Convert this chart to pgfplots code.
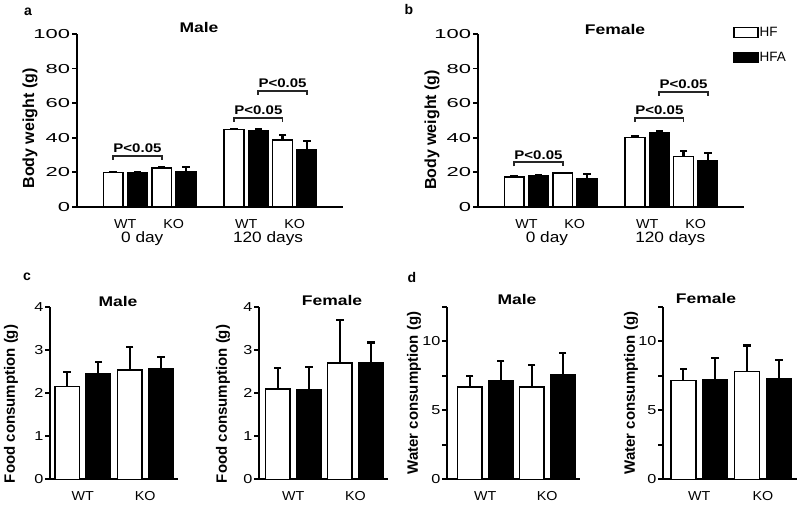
\documentclass[border=0pt]{standalone}
\usepackage{fontspec}
\setmainfont{Liberation Sans}
\usepackage{pgfplots}
\pgfplotsset{compat=1.18}

\newcommand\fs[1]{\fontsize{#1}{#1}\selectfont}

\pgfplotsset{
  panel/.style={
    scale only axis,
    axis x line*=bottom, axis y line*=left,
    axis line style={line width=1.8pt},
    ymin=0,
    xtick style={draw=none},
    ytick style={line width=1.8pt, black},
    tick align=outside,
    major tick length=5pt,
    unbounded coords=jump,
    /pgf/number format/assume math mode=true,
    yticklabel style={font=\fs{13}, xscale=1.25, inner sep=1pt},
    xticklabel style={font=\fs{13}, xscale=1.1, anchor=base, yshift=-16.5pt},
    clip=false,
  },
  hf/.style={ybar, bar shift=0pt, draw=black, fill=white, line width=1.6pt},
  hfa/.style={ybar, bar shift=0pt, draw=black, fill=black, line width=1.6pt},
  % error bar stems (value to value+SD, separated by nan) and caps
  stem/.style={forget plot, black, line width=2.2pt, mark=none},
  cap/.style={forget plot, only marks, black, mark=-, mark size=3.8pt,
    mark options={line width=2.2pt}},
  bw/.style={panel, width=266pt, height=173pt, xmin=-1.5, xmax=9.5,
    ymax=100, ytick={0,20,...,100}, bar width=0.82,
    xtick={0.5,2.5,5.5,7.5}, xticklabels={WT,KO,WT,KO},
    yticklabel style={xscale=1.35}},
  fc/.style={panel, height=172.6pt, ymax=4, ytick={0,1,2,3,4}, bar width=0.78,
    xtick={0.5,2.5}, xticklabels={WT,KO}},
  wc/.style={panel, height=172.6pt, ymax=12.5, ytick={0,2.5,5,7.5,10,12.5},
    yticklabels={0,,5,,10,}, bar width=0.78,
    xtick={0.5,2.5}, xticklabels={WT,KO}},
}

% significance bracket: x1, x2, y
\newcommand\sig[3]{%
  \draw[line width=1.8pt, black!85] ([yshift=-4pt]axis cs:#1,#3) -- (axis cs:#1,#3)
    -- (axis cs:#2,#3) -- ([yshift=-4pt]axis cs:#2,#3);
  \node[font=\bfseries\fs{12.5}, xscale=1.2, anchor=south, inner sep=0pt, yshift=3pt]
    at (axis cs:{(#1+#2)/2},#3) {P<0.05};
}

\begin{document}
\begin{tikzpicture}[x=1pt,y=1pt]
\path[use as bounding box] (0,0) rectangle (800,504);

% ---- a: male body weight
\begin{axis}[bw, at={(77pt,297pt)}, anchor=south west]
\addplot[hf] coordinates {(0,20) (2,22.7) (5,44.9) (7,38.7)};
\addplot[hfa] coordinates {(1,20) (3,20.4) (6,44.3) (8,33.3)};
\addplot[stem] coordinates {(0,20) (0,20.3) (0,nan) (2,22.7) (2,23.1) (2,nan)
  (5,44.9) (5,45.2) (5,nan) (7,38.7) (7,41.6) (7,nan)
  (1,20) (1,20.4) (1,nan) (3,20.4) (3,23.3) (3,nan)
  (6,44.3) (6,45.1) (6,nan) (8,33.3) (8,38.3)};
\addplot[cap] coordinates {(0,20.3) (2,23.1) (5,45.2) (7,41.6) (1,20.4) (3,23.3) (6,45.1) (8,38.3)};
\sig{0}{2}{29.7}
\sig{5}{7}{51.6}
\sig{6}{8}{67.2}
\node[font=\fs{15}, xscale=1.15, anchor=base, yshift=-35.5pt] at (axis cs:1.2,0) {0 day};
\node[font=\fs{15}, xscale=1.15, anchor=base, yshift=-35.5pt] at (axis cs:6.4,0) {120 days};
\end{axis}

% ---- b: female body weight
\begin{axis}[bw, at={(478pt,297pt)}, anchor=south west,
  legend style={at={(axis description cs:0.959,1.045)}, anchor=north west,
    draw=none, fill=none, inner sep=0pt, font=\fs{13.5}, row sep=12pt,
    nodes={inner sep=1pt}},
  legend cell align=left]
\addplot[hf, legend image code/.code={\draw[fill=white, draw=black, line width=1.2pt] (0pt,-5pt) rectangle (24pt,5pt);}]
  coordinates {(0,17.5) (2,19.5) (5,40.1) (7,29.3)};
\addplot[hfa, legend image code/.code={\draw[fill=black, draw=black, line width=1.2pt] (0pt,-5pt) rectangle (24pt,5pt);}]
  coordinates {(1,18.1) (3,16.2) (6,42.9) (8,26.6)};
\legend{HF,HFA}
\addplot[stem] coordinates {(0,17.5) (0,17.8) (0,nan) (2,19.5) (2,19.8) (2,nan)
  (5,40.1) (5,40.7) (5,nan) (7,29.3) (7,32.4) (7,nan)
  (1,18.1) (1,18.5) (1,nan) (3,16.2) (3,19.1) (3,nan)
  (6,42.9) (6,44.1) (6,nan) (8,26.6) (8,31.4)};
\addplot[cap] coordinates {(0,17.8) (2,19.8) (5,40.7) (7,32.4) (1,18.5) (3,19.1) (6,44.1) (8,31.4)};
\sig{0}{2}{25.8}
\sig{5}{7}{51.3}
\sig{6}{8}{66.7}
\node[font=\fs{15}, xscale=1.15, anchor=base, yshift=-35.5pt] at (axis cs:1.35,0) {0 day};
\node[font=\fs{15}, xscale=1.15, anchor=base, yshift=-35.5pt] at (axis cs:6.45,0) {120 days};
\end{axis}

% ---- c: food consumption
\begin{axis}[fc, at={(50pt,24.7pt)}, anchor=south west, width=128pt, xmin=-0.55, xmax=3.55]
\addplot[hf] coordinates {(0,2.15) (2,2.53)};
\addplot[hfa] coordinates {(1,2.44) (3,2.56)};
\addplot[stem] coordinates {(0,2.15) (0,2.48) (0,nan) (2,2.53) (2,3.07) (2,nan)
  (1,2.44) (1,2.71) (1,nan) (3,2.56) (3,2.83)};
\addplot[cap] coordinates {(0,2.48) (2,3.07) (1,2.71) (3,2.83)};
\end{axis}
\begin{axis}[fc, at={(259pt,24.7pt)}, anchor=south west, width=129pt, xmin=-0.6, xmax=3.55]
\addplot[hf] coordinates {(0,2.09) (2,2.69)};
\addplot[hfa] coordinates {(1,2.07) (3,2.69)};
\addplot[stem] coordinates {(0,2.09) (0,2.58) (0,nan) (2,2.69) (2,3.69) (2,nan)
  (1,2.07) (1,2.60) (1,nan) (3,2.69) (3,3.17)};
\addplot[cap] coordinates {(0,2.58) (2,3.69) (1,2.60) (3,3.17)};
\end{axis}

% ---- d: water consumption
\begin{axis}[wc, at={(447pt,24.7pt)}, anchor=south west, width=133pt, xmin=-0.73, xmax=3.56]
\addplot[hf] coordinates {(0,6.68) (2,6.68)};
\addplot[hfa] coordinates {(1,7.16) (3,7.6)};
\addplot[stem] coordinates {(0,6.68) (0,7.5) (0,nan) (2,6.68) (2,8.29) (2,nan)
  (1,7.16) (1,8.56) (1,nan) (3,7.6) (3,9.16)};
\addplot[cap] coordinates {(0,7.5) (2,8.29) (1,8.56) (3,9.16)};
\end{axis}
\begin{axis}[wc, at={(663pt,24.7pt)}, anchor=south west, width=134pt, xmin=-0.64, xmax=3.57]
\addplot[hf] coordinates {(0,7.16) (2,7.81)};
\addplot[hfa] coordinates {(1,7.21) (3,7.26)};
\addplot[stem] coordinates {(0,7.16) (0,8.0) (0,nan) (2,7.81) (2,9.69) (2,nan)
  (1,7.21) (1,8.8) (1,nan) (3,7.26) (3,8.63)};
\addplot[cap] coordinates {(0,8.0) (2,9.69) (1,8.8) (3,8.63)};
\end{axis}

% panel letters
\begin{scope}[every node/.style={font=\bfseries\fs{14}}]
\node at (28,492) {a};
\node at (409,495) {b};
\node at (27,227) {c};
\node at (412,227) {d};
\end{scope}

% titles
\begin{scope}[every node/.style={font=\bfseries\fs{14}, xscale=1.25}]
\node at (199,477) {Male};
\node at (615,475) {Female};
\node at (118,203) {Male};
\node at (332,204) {Female};
\node at (517,205) {Male};
\node at (706,206) {Female};
\end{scope}

% y labels
\begin{scope}[every node/.style={font=\bfseries\fs{16}, rotate=90}]
\node at (30,375.5) {Body weight (g)};
\node at (432,374) {Body weight (g)};
\end{scope}
\begin{scope}[every node/.style={font=\bfseries\fs{15}, rotate=90}]
\node at (11,100) {Food consumption (g)};
\node at (223,100) {Food consumption (g)};
\node at (414,111) {Water consumption (g)};
\node at (631,111) {Water consumption (g)};
\end{scope}
\end{tikzpicture}
\end{document}
